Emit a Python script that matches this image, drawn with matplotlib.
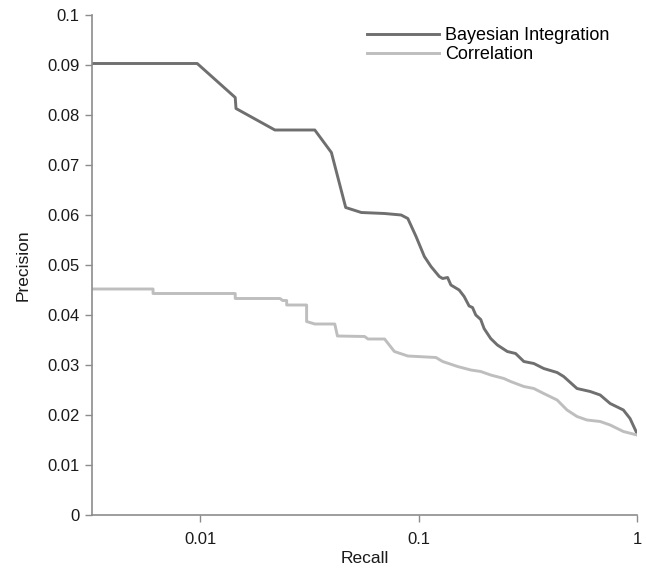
import matplotlib
matplotlib.use("Agg")
import matplotlib.pyplot as plt
from matplotlib.ticker import FixedLocator, NullLocator

plt.rcParams['font.family'] = ['Liberation Sans', 'DejaVu Sans']

# Data
bayes_recall = [0.0032, 0.0097, 0.01448, 0.0146, 0.0220, 0.0335, 0.0399, 0.0464,
                0.0547, 0.0699, 0.08324, 0.0893, 0.0974, 0.1063, 0.1140, 0.1244,
                0.1289, 0.1358, 0.1406, 0.1534, 0.1617, 0.1704, 0.1766, 0.1828,
                0.1926, 0.1995, 0.2139, 0.2295, 0.2549, 0.2781, 0.3034, 0.3370,
                0.3742, 0.4308, 0.4616, 0.5313, 0.6107, 0.6784, 0.7534, 0.8662,
                0.9292, 1.0]
bayes_precision = [0.0903, 0.0903, 0.0835, 0.0813, 0.0770, 0.0770, 0.0725, 0.0615,
                   0.0605, 0.0603, 0.0600, 0.0593, 0.0557, 0.0517, 0.0497, 0.0477,
                   0.0473, 0.0475, 0.0460, 0.0450, 0.0437, 0.0418, 0.0415, 0.0400,
                   0.0391, 0.0373, 0.0353, 0.0340, 0.0327, 0.0323, 0.0307, 0.0303,
                   0.0293, 0.0285, 0.0277, 0.0253, 0.0247, 0.0240, 0.0223, 0.0210,
                   0.0193, 0.0163]

corr_recall = [0.0032, 0.00609, 0.00609, 0.01448, 0.01448, 0.02321, 0.02388, 0.02491,
               0.02491, 0.03073, 0.03073, 0.03351, 0.04135, 0.04253, 0.05663, 0.05869,
               0.0699, 0.0775, 0.0893, 0.1201, 0.1289, 0.1509, 0.1735, 0.1926,
               0.2139, 0.2459, 0.2638, 0.3034, 0.3370, 0.3742, 0.4308, 0.4783,
               0.5313, 0.5898, 0.6784, 0.7534, 0.8662, 1.0]
corr_precision = [0.0452, 0.0452, 0.0443, 0.0443, 0.0433, 0.0433, 0.0429, 0.0429,
                  0.0420, 0.0420, 0.0387, 0.0382, 0.0382, 0.0358, 0.0357, 0.0352,
                  0.0352, 0.0327, 0.0318, 0.0315, 0.0307, 0.0297, 0.0290, 0.0287,
                  0.0280, 0.0273, 0.0267, 0.0257, 0.0253, 0.0243, 0.0230, 0.0210,
                  0.0197, 0.0190, 0.0187, 0.0180, 0.0167, 0.0160]

x_ticks = [0.01, 0.1, 1]
x_tick_labels = ["0.01", "0.1", "1"]
y_ticks = [0, 0.01, 0.02, 0.03, 0.04, 0.05, 0.06, 0.07, 0.08, 0.09, 0.1]
y_tick_labels = ["0", "0.01", "0.02", "0.03", "0.04", "0.05", "0.06", "0.07", "0.08", "0.09", "0.1"]

fig = plt.figure(figsize=(6.46, 5.71), dpi=100)
ax = fig.add_axes([92/646, 1 - 515/571, (637-92)/646, (515-15)/571])

ax.plot(bayes_recall, bayes_precision, color='#6f6f6f', lw=2.1, label='Bayesian Integration')
ax.plot(corr_recall, corr_precision, color='#bebebe', lw=2.1, label='Correlation')

ax.set_xscale('log')
ax.set_xlim(0.0032, 1)
ax.set_ylim(0, 0.1)
ax.xaxis.set_major_locator(FixedLocator(x_ticks))
ax.xaxis.set_minor_locator(NullLocator())
ax.set_xticklabels(x_tick_labels)
ax.set_yticks(y_ticks)
ax.set_yticklabels(y_tick_labels)

for s in ['top', 'right']:
    ax.spines[s].set_visible(False)
for s in ['left', 'bottom']:
    ax.spines[s].set_color('#8c8c8c')
    ax.spines[s].set_linewidth(1.2)
ax.tick_params(axis='both', colors='#8c8c8c', labelcolor='#1a1a1a', labelsize=12,
               length=5, width=1.0, direction='out')
ax.tick_params(axis='x', pad=7)
ax.tick_params(axis='y', pad=4)

ax.set_xlabel('Recall', fontsize=12.5, color='#1a1a1a', labelpad=3)
ax.set_ylabel('Precision', fontsize=12.5, color='#1a1a1a', labelpad=12)

leg = ax.legend(loc='upper left', bbox_to_anchor=(0.505, 0.975), frameon=False,
                fontsize=13, handlelength=4.0, handletextpad=0.3, labelspacing=0.1,
                borderpad=0, borderaxespad=0)

fig.savefig('out.png', dpi=100)
